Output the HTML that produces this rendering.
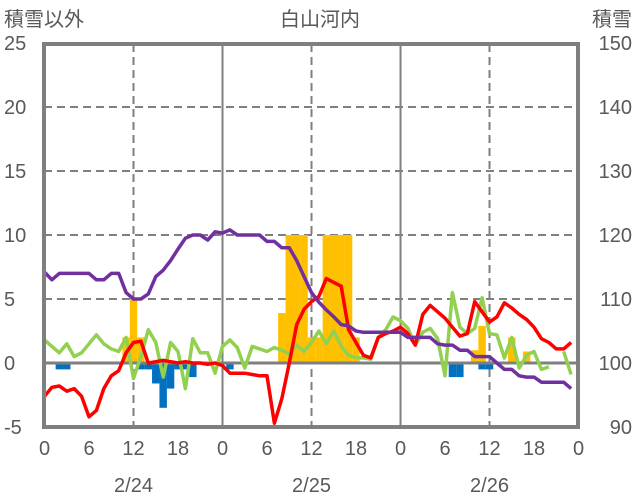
<!DOCTYPE html>
<html><head><meta charset="utf-8"><style>
html,body{margin:0;padding:0;background:#fff;}
svg{display:block;font-family:"Liberation Sans","Noto Sans CJK JP",sans-serif;}
</style></head><body>
<svg id="chart" width="636" height="501" viewBox="0 0 636 501">
<text x="4" y="26" font-size="20" fill="#595959">積雪以外</text>
<text x="320" y="26" font-size="20" fill="#595959" text-anchor="middle">白山河内</text>
<text x="632" y="26" font-size="20" fill="#595959" text-anchor="end">積雪</text>
</svg>
<script>
const leftTicks=[-5,0,5,10,15,20,25];
const rightTicks=[90,100,110,120,130,140,150];
const hourLabels=[0,6,12,18,0,6,12,18,0,6,12,18,0];
const dateLabels=["2/24","2/25","2/26"];
const snowDepth=[114.2,113,114,114,114,114,114,113,113,114,114,111,110,110,110.8,113.5,114.5,116,117.8,119.5,120,120,119.2,120.5,
120.3,120.8,120,120,120,120,119,119,118,118,116,113.5,111,109.5,108.3,107.2,106,105.8,105,104.8,104.8,104.8,104.8,104.8,
104.8,104,104,104,104,103,102.8,102.8,102,102,101,101,101,100,99,99,98,97.8,97.8,97,97,97,97,96];
const temperature=[-2.6,-1.9,-1.8,-2.2,-2,-2.6,-4.2,-3.7,-2,-1,-0.6,0.8,1.6,1.7,0,0.1,0.2,0.1,0,0.1,0,0,-0.1,0,
-0.2,-0.8,-0.8,-0.8,-0.9,-1,-1,-4.7,-2.8,0,3,4.2,4.8,5.2,6.6,6.3,6,2.6,1.6,0.6,0.4,2,2.3,2.5,
2.8,2.3,1.4,3.8,4.5,4,3.5,2.8,2.1,2.3,4.8,4,3.2,3.6,4.7,4.3,3.8,3.4,2.8,1.9,1.6,1.1,1.1,1.6];
const wind=[1.8,1.3,0.8,1.5,0.5,0.8,1.5,2.2,1.5,1.1,0.9,2,-1.2,0.5,2.6,1.6,-1.1,1.6,0.9,-2,1.9,0.8,0.8,-0.8,
1.3,1.8,1.2,-0.4,1.3,1.1,0.9,1.2,1,0.7,1.4,0.9,1.6,2.5,1.5,2.5,1.3,0.6,0.4,0.4,0.3,2,2.6,3.6,
3.3,2.7,1.4,2.4,2.7,1.9,-1,5.5,2.8,2.3,2.7,5.1,2.3,2.2,0.4,2,-0.4,0.6,0.9,-0.5,-0.3,null,0.9,-0.9];
const snowfallHours=[11,12,13,32,33,34,35,36,37,38,39,40,41,42,58,59,63,65];
const snowfallValues=[2,5,2,3.9,10,10,10,2,2,10,10,10,10,2,1,2.9,2,0.9];
const meltHours=[2,3,13,14,15,16,17,18,19,20,25,55,56,59,60];
const meltValues=[-0.5,-0.5,-0.5,-0.5,-1.6,-3.5,-2,-0.5,-0.5,-1.1,-0.5,-1.1,-1.1,-0.5,-0.5];

const svg=document.getElementById('chart');
const NS='http://www.w3.org/2000/svg';
const X0=44.5,PX=7.417,Y0=363,PY=12.8;
const xs=h=>X0+h*PX;
const yl=v=>Y0-v*PY;
const yr=v=>Y0-(v-100)*6.4;
function mk(tag,attrs,parent){const e=document.createElementNS(NS,tag);for(const k in attrs)e.setAttribute(k,attrs[k]);(parent||svg).appendChild(e);return e;}

// grid
leftTicks.forEach(v=>{if(v!==0&&v!==25&&v!==-5){const g=mk('line',{x1:44,x2:578,y1:yl(v),y2:yl(v),stroke:'#7f7f7f','stroke-width':2,'stroke-dasharray':'8,5'});

}});
for(let d=0;d<3;d++){const g=mk('line',{x1:xs(d*24+12),x2:xs(d*24+12),y1:44,y2:427,stroke:'#7f7f7f','stroke-width':2,'stroke-dasharray':'8,5'});

}
for(let d=1;d<3;d++){const g=mk('line',{x1:xs(d*24),x2:xs(d*24),y1:44,y2:427,stroke:'#7f7f7f','stroke-width':2});

}

// bars
snowfallHours.forEach((h,i)=>{const v=snowfallValues[i];const r=mk('rect',{x:xs(h)-PX/2,width:PX,y:yl(v),height:Y0-yl(v),fill:'#ffc000'});

});
meltHours.forEach((h,i)=>{const v=meltValues[i];const r=mk('rect',{x:xs(h)-PX/2,width:PX,y:Y0,height:yl(v)-Y0,fill:'#0070c0'});

});

// zero line
const z=mk('line',{x1:44,x2:578,y1:Y0,y2:Y0,stroke:'#7f7f7f','stroke-width':3});



function line(arr,yf,color,name){let d='',pen=false;arr.forEach((v,h)=>{if(v===null){pen=false;return;}d+=(pen?'L':'M')+xs(h).toFixed(1)+','+yf(v).toFixed(1);pen=true;});
const p=mk('path',{d:d,fill:'none',stroke:color,'stroke-width':3.5,'stroke-linejoin':'round'});

}
line(wind,yl,'#92d050','wind-line');
line(temperature,yl,'#ff0000','temperature-line');
line(snowDepth,yr,'#7030a0','snow-depth-line');

// frame
const f=mk('rect',{x:44,y:44,width:534,height:383,fill:'none',stroke:'#7f7f7f','stroke-width':4});



// ticks
leftTicks.forEach(v=>{const t=mk('text',{x:4,y:yl(v)+7,'font-size':20,fill:'#595959'});t.textContent=v;

});
rightTicks.forEach(v=>{const t=mk('text',{x:632,y:yr(v)+7,'font-size':20,fill:'#595959','text-anchor':'end'});t.textContent=v;

});
hourLabels.forEach((v,i)=>{const t=mk('text',{x:xs(i*6),y:455,'font-size':20,fill:'#595959','text-anchor':'middle'});t.textContent=v;

});
dateLabels.forEach((v,i)=>{const t=mk('text',{x:xs(i*24+12),y:492,'font-size':20,fill:'#595959','text-anchor':'middle'});t.textContent=v;

});
</script>
</body></html>
